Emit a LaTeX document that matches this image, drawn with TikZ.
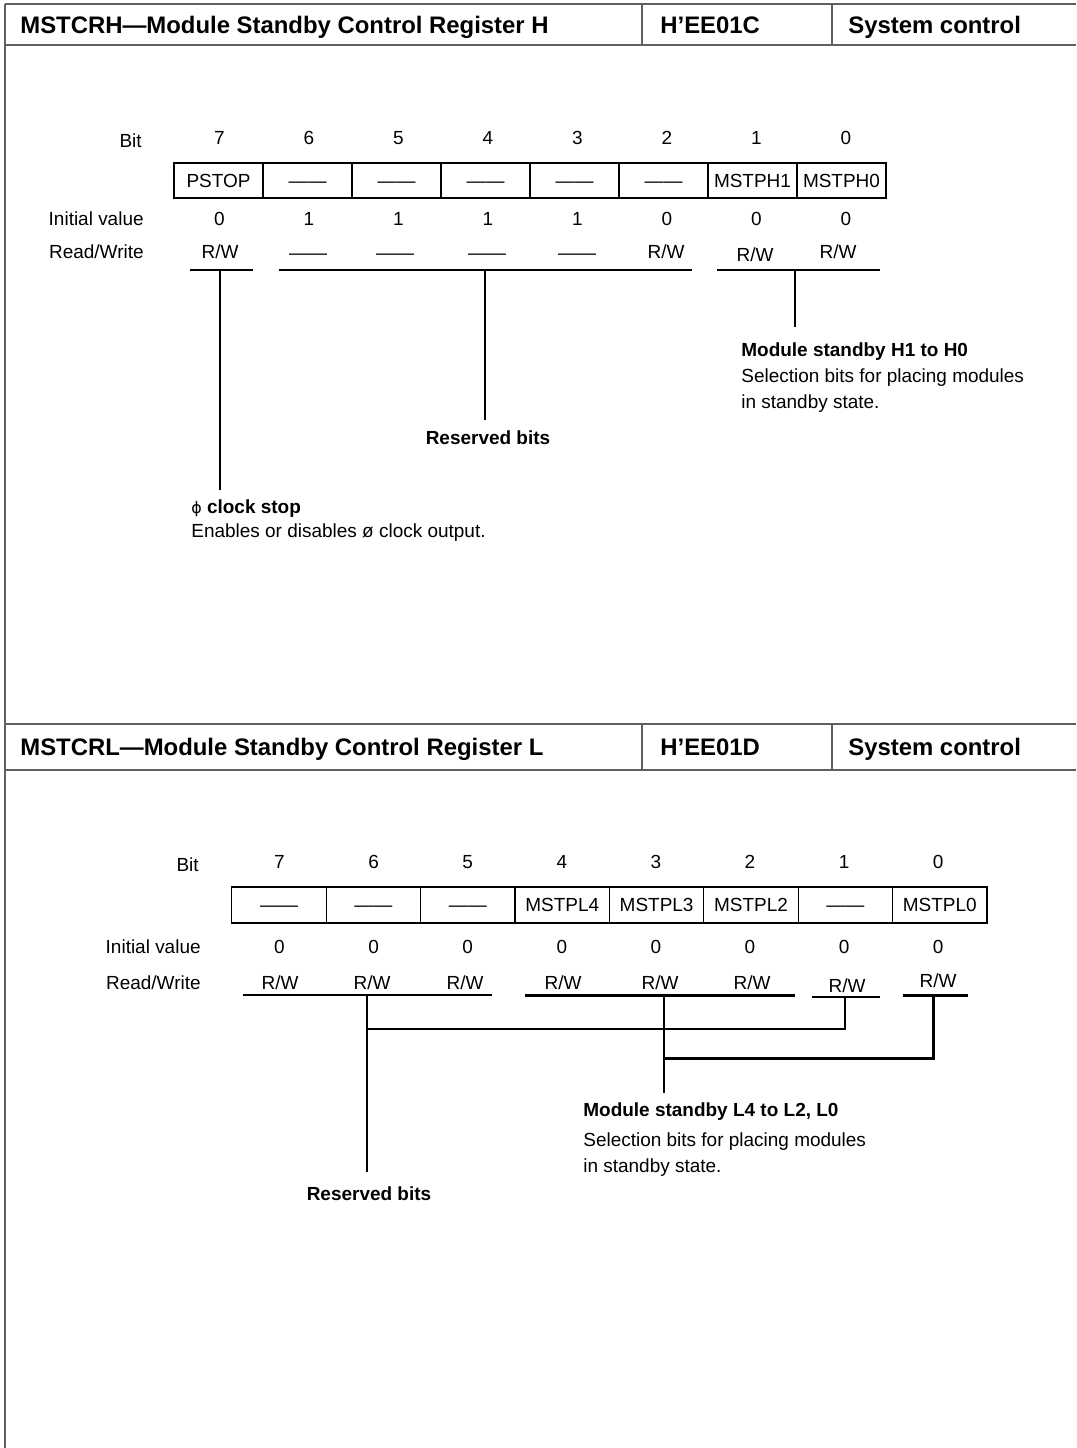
\documentclass[tikz,border=0pt]{standalone}
\usepackage{fontspec}
\setmainfont{Liberation Sans}
\newfontfamily\phifont{DejaVu Sans}
\usetikzlibrary{positioning,calc}
\definecolor{RuleGrey}{RGB}{95,95,95}
\newcommand{\regtext}{\fontsize{10.8pt}{14.8pt}\selectfont}
\newcommand{\headtext}{\fontsize{13.6pt}{16pt}\selectfont\bfseries}
\newcommand{\nobit}{\vphantom{0}——}
\newcommand{\rw}{R/W}
\tikzset{
  panelrule/.style={draw=RuleGrey,line width=1.1pt},
  hdr/.style={anchor=base west,inner sep=0pt,font=\headtext},
  cellH/.style={draw,line width=0.6pt,minimum width=1.78cm,minimum height=0.70cm,
    inner sep=0pt,outer sep=0pt,font=\regtext},
  cellL/.style={draw,line width=0.6pt,minimum width=1.888cm,minimum height=0.72cm,
    inner sep=0pt,outer sep=0pt,font=\regtext},
  field/.style={inner sep=0pt,font=\regtext},
  rowlabel/.style={anchor=east,inner sep=0pt,font=\regtext},
  desc/.style={anchor=north west,align=left,inner sep=0pt,font=\regtext},
  thinrule/.style={line width=0.6pt},
  thickrule/.style={line width=1.7pt}
}

\begin{document}
\begin{tikzpicture}[x=0.02cm,y=-0.02cm]
  \useasboundingbox (0,0) rectangle (1076,1448);

  \draw[panelrule] (5,4) -- (5,1448);
  \foreach \top/\bot in {4/45,724/770} {
    \draw[panelrule] (5,\top) -- (1076,\top);
    \draw[panelrule] (5,\bot) -- (1076,\bot);
    \draw[panelrule] (642,\top) -- (642,\bot);
    \draw[panelrule] (832,\top) -- (832,\bot);
  }

  \node[hdr] (titleH) at (20,33) {MSTCRH—Module Standby Control Register H};
  \node[hdr] (addrH) at (660,33) {H’EE01C};
  \node[hdr] (groupH) at (848,33) {System control};
  \node[hdr] (titleL) at (20,755.5) {MSTCRL—Module Standby Control Register L};
  \node[hdr] (addrL) at (660,755.5) {H’EE01D};
  \node[hdr] (groupL) at (848,755.5) {System control};

  \node[rowlabel] (bitH) at (142,141) {Bit};
  \node[rowlabel] (initH) at (144,219) {Initial value};
  \node[rowlabel] (rwH) at (144,252) {Read/Write};
  \foreach \lbl/\ini [count=\i from 0] in {PSTOP/0,\nobit/1,\nobit/1,\nobit/1,\nobit/1,\nobit/0,MSTPH1/0,MSTPH0/0} {
    \pgfmathtruncatemacro\b{7-\i}
    \node[cellH] (regH\b) at ({218.5+89*\i},180.5) {\lbl};
    \node[field] (numH\b) at ({219.5+89.5*\i},138) {\b};
    \node[field] (iniH\b) at ({219.5+89.5*\i},219) {\ini};
  }
  \foreach \x/\y/\acc [count=\i from 0] in {220/252/\rw,308/253/\nobit,395/253/\nobit,487/253/\nobit,
      577/253/\nobit,666/252/\rw,755/255/\rw,838/252/\rw} {
    \pgfmathtruncatemacro\b{7-\i}
    \node[field] (accH\b) at (\x,\y) {\acc};
  }

  \coordinate (clkL) at (190,270);
  \coordinate (clkR) at (253,270);
  \coordinate (clkT) at (220,270);
  \coordinate (clkB) at (220,490);
  \coordinate (resHL) at (279,270);
  \coordinate (resHR) at (692,270);
  \coordinate (resHT) at (485,270);
  \coordinate (resHB) at (485,420);
  \coordinate (mstHL) at (717,270);
  \coordinate (mstHR) at (880,270);
  \coordinate (mstHT) at (795,270);
  \coordinate (mstHB) at (795,327);
  \draw[thinrule] (clkL) -- (clkR);
  \draw[thinrule] (clkT) -- (clkB);
  \draw[thinrule] (resHL) -- (resHR);
  \draw[thinrule] (resHT) -- (resHB);
  \draw[thinrule] (mstHL) -- (mstHR);
  \draw[thinrule] (mstHT) -- (mstHB);

  \node[desc] (mstHdesc) at (741,342) {\textbf{Module standby H1 to H0}\\
    Selection bits for placing modules\\in standby state.};
  \node[field,font=\regtext\bfseries] (resHdesc) at (488,438) {Reserved bits};
  \node[desc,font=\fontsize{10.8pt}{13.7pt}\selectfont] (clkdesc) at (191,499)
    {{\phifont\fontsize{9pt}{9pt}\selectfont ϕ} \textbf{clock stop}\\Enables or disables ø clock output.};

  \node[rowlabel] (bitL) at (199,865) {Bit};
  \node[rowlabel] (initL) at (201,947) {Initial value};
  \node[rowlabel] (rwL) at (201,983) {Read/Write};
  \foreach \lbl/\ini [count=\i from 0] in {\nobit/0,\nobit/0,\nobit/0,MSTPL4/0,MSTPL3/0,MSTPL2/0,\nobit/0,MSTPL0/0} {
    \pgfmathtruncatemacro\b{7-\i}
    \node[cellL] (regL\b) at ({279+94.4*\i},905) {\lbl};
    \node[field] (numL\b) at ({279.5+94.1*\i},862) {\b};
    \node[field] (iniL\b) at ({279.5+94.1*\i},947) {\ini};
  }
  \foreach \x/\y [count=\i from 0] in {280/983,372/983,465/983,563/983,660/983,752/983,847/986,938/981} {
    \pgfmathtruncatemacro\b{7-\i}
    \node[field] (accL\b) at (\x,\y) {\rw};
  }

  \coordinate (resLL) at (243,995);
  \coordinate (resLR) at (492,995);
  \coordinate (resLT) at (367,995);
  \coordinate (resLB) at (367,1172);
  \coordinate (oneL) at (812,997);
  \coordinate (oneR) at (880,997);
  \coordinate (oneT) at (845,997);
  \coordinate (oneB) at (845,1029);
  \coordinate (mstLL) at (525,995);
  \coordinate (mstLR) at (795,995);
  \coordinate (mstLT) at (664,995);
  \coordinate (mstLB) at (664,1093);
  \coordinate (zeroL) at (903,995);
  \coordinate (zeroR) at (968,995);
  \coordinate (zeroT) at (933,995);
  \coordinate (zeroB) at (933,1058);
  \draw[thinrule] (resLL) -- (resLR);
  \draw[thinrule] (resLT) -- (resLB);
  \draw[thinrule] (oneL) -- (oneR);
  \draw[thinrule] (oneT) -- (oneB) -- (resLT |- oneB);
  \draw[thickrule] (mstLL) -- (mstLR);
  \draw[thickrule] (mstLT) -- (mstLB);
  \draw[thickrule] (zeroL) -- (zeroR);
  \draw[thickrule] (zeroT) -- (zeroB) -- (mstLT |- zeroB);

  \node[desc] (mstLdesc) at (583,1102) {\textbf{Module standby L4 to L2, L0}\\[2.3pt]
    Selection bits for placing modules\\in standby state.};
  \node[field,font=\regtext\bfseries] (resLdesc) at (369,1194) {Reserved bits};
\end{tikzpicture}
\end{document}
